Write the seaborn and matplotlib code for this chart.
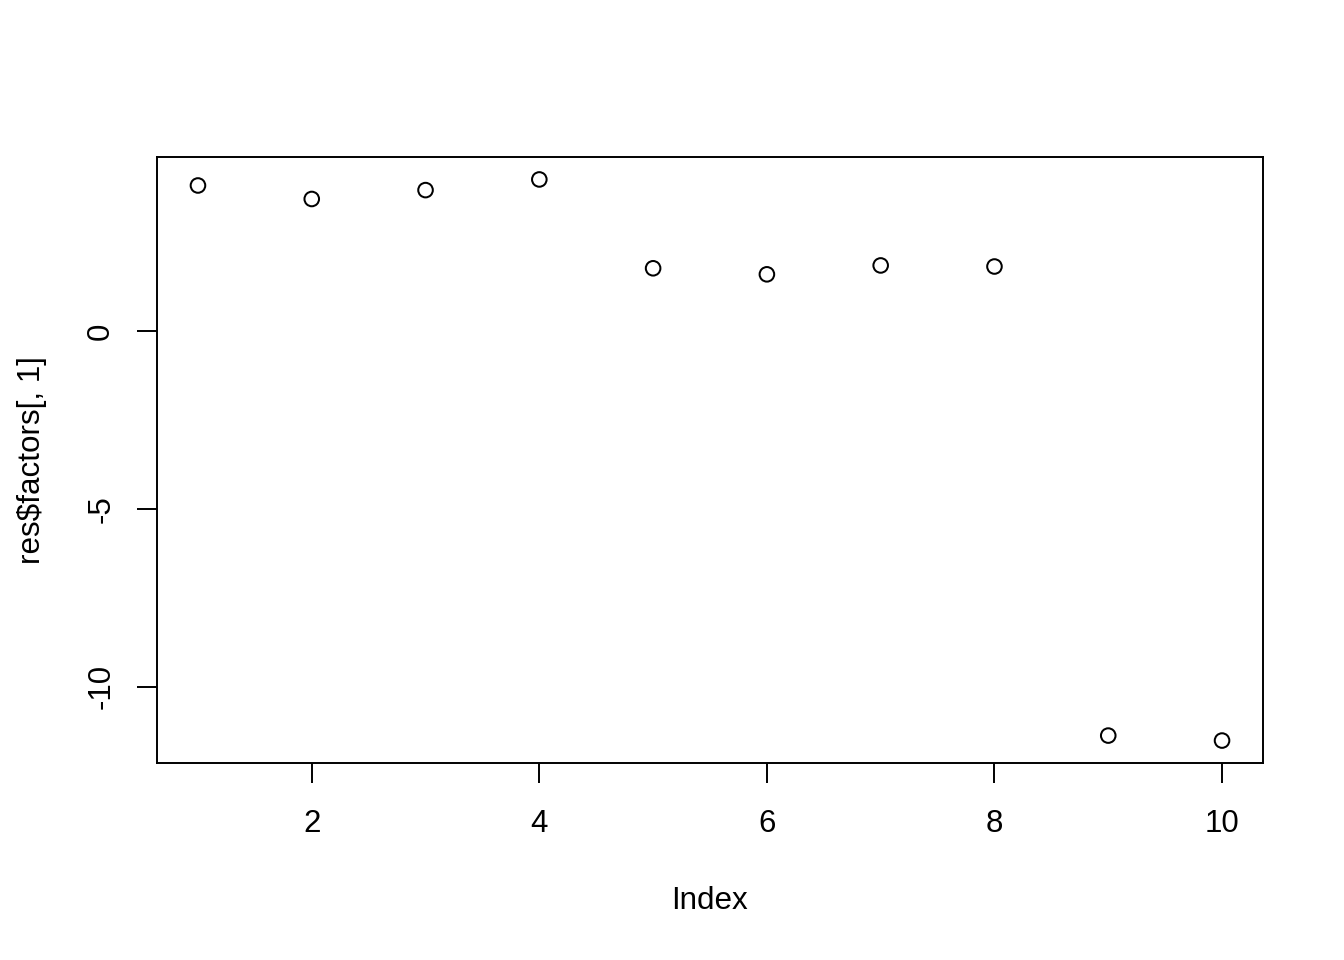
import matplotlib
matplotlib.use("Agg")
import matplotlib.pyplot as plt
import seaborn as sns
import pandas as pd

index = [1, 2, 3, 4, 5, 6, 7, 8, 9, 10]
factor1 = [4.10, 3.72, 3.97, 4.27, 1.77, 1.60, 1.85, 1.82, -11.38, -11.52]
xticks = [2, 4, 6, 8, 10]
yticks = [0, -5, -10]

sns.set_theme(style="white")
plt.rcParams['font.family'] = ['Liberation Sans', 'DejaVu Sans']

df = pd.DataFrame({"Index": index, "res$factors[, 1]": factor1})

fig = plt.figure(figsize=(13.44, 9.6), dpi=100)
ax = fig.add_axes([157/1344, 1-763/960, (1263-157)/1344, (763-157)/960])

sns.scatterplot(data=df, x="Index", y="res$factors[, 1]", ax=ax,
                marker="o", s=110, facecolors="none", edgecolor="black",
                linewidth=1.45)

xmin, xmax = min(index), max(index)
dx = (xmax - xmin) * 0.04
ax.set_xlim(xmin - dx, xmax + dx)
ymin, ymax = min(factor1), max(factor1)
dy = (ymax - ymin) * 0.04
ax.set_ylim(ymin - dy, ymax + dy)

ax.set_xticks(xticks)
ax.set_yticks(yticks)
ax.set_yticklabels([str(t) for t in yticks], rotation=90, va="center")

for sp in ax.spines.values():
    sp.set_color("black")
    sp.set_linewidth(1.4)
    sp.set_visible(True)

ax.tick_params(axis="both", which="major", direction="out", length=14.4,
               width=1.4, color="black", labelsize=22.5, labelcolor="black",
               bottom=True, left=True)
ax.tick_params(axis="x", pad=18.5)
ax.tick_params(axis="y", pad=15)

ax.set_xlabel("Index", fontsize=22.6, color="black", labelpad=34)
ax.set_ylabel("res$factors[, 1]", fontsize=22.6, color="black", labelpad=28)

fig.savefig("out.png", dpi=100, facecolor="white")
